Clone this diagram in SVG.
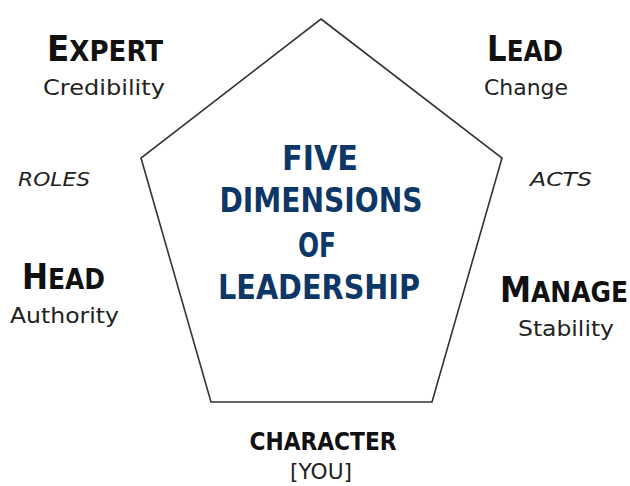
<svg xmlns="http://www.w3.org/2000/svg" width="630" height="486" viewBox="0 0 630 486">
  <style>
    .hd { font-family: "DejaVu Sans Condensed", "DejaVu Sans", sans-serif; font-weight: bold; fill: #111; }
    .cap { font-size: 35px; }
    .sc { font-size: 28px; }
    .sub { font-family: "DejaVu Sans", sans-serif; font-size: 21px; fill: #222; }
    .it { font-family: "DejaVu Sans", sans-serif; font-size: 19px; font-style: italic; fill: #222; }
    .title { font-family: "DejaVu Sans Condensed", "DejaVu Sans", sans-serif; font-weight: bold; font-size: 34px; fill: #0c3767; text-anchor: middle; }
    .mid { text-anchor: middle; }
    .frame { fill: none; stroke: #333; stroke-width: 1.6; stroke-linejoin: miter; }
  </style>
  <rect width="630" height="486" fill="#fff"/>

  <g id="connectors">
    <polygon class="frame" points="321,19 502,158 432,402 211,402 141,158"/>
  </g>

  <g id="title">
    <text class="title" x="320" y="170" textLength="76" lengthAdjust="spacingAndGlyphs">FIVE</text>
    <text class="title" x="321" y="212" textLength="203" lengthAdjust="spacingAndGlyphs">DIMENSIONS</text>
    <text class="title" x="317" y="257" textLength="38" lengthAdjust="spacingAndGlyphs">OF</text>
    <text class="title" x="319" y="299" textLength="202" lengthAdjust="spacingAndGlyphs">LEADERSHIP</text>
  </g>

  <g id="expert">
    <text class="hd" x="47" y="61" textLength="116" lengthAdjust="spacingAndGlyphs"><tspan class="cap">E</tspan><tspan class="sc">XPERT</tspan></text>
    <text class="sub" x="43" y="95" textLength="122" lengthAdjust="spacingAndGlyphs">Credibility</text>
  </g>

  <g id="lead">
    <text class="hd" x="487" y="61" textLength="76" lengthAdjust="spacingAndGlyphs"><tspan class="cap">L</tspan><tspan class="sc">EAD</tspan></text>
    <text class="sub" x="484" y="95" textLength="84" lengthAdjust="spacingAndGlyphs">Change</text>
  </g>

  <g id="roles">
    <text class="it" x="18" y="186" textLength="72" lengthAdjust="spacingAndGlyphs">ROLES</text>
  </g>

  <g id="acts">
    <text class="it" x="530" y="186" textLength="62" lengthAdjust="spacingAndGlyphs">ACTS</text>
  </g>

  <g id="head">
    <text class="hd" x="22" y="289" textLength="83" lengthAdjust="spacingAndGlyphs"><tspan class="cap">H</tspan><tspan class="sc">EAD</tspan></text>
    <text class="sub" x="10" y="323" textLength="109" lengthAdjust="spacingAndGlyphs">Authority</text>
  </g>

  <g id="manage">
    <text class="hd" x="500" y="302" textLength="128" lengthAdjust="spacingAndGlyphs"><tspan class="cap">M</tspan><tspan class="sc">ANAGE</tspan></text>
    <text class="sub" x="518" y="336" textLength="96" lengthAdjust="spacingAndGlyphs">Stability</text>
  </g>

  <g id="character">
    <text class="hd mid" x="323" y="450" font-size="24" textLength="147" lengthAdjust="spacingAndGlyphs">CHARACTER</text>
    <text class="sub mid" x="321" y="479" textLength="62" lengthAdjust="spacingAndGlyphs">[YOU]</text>
  </g>
</svg>
